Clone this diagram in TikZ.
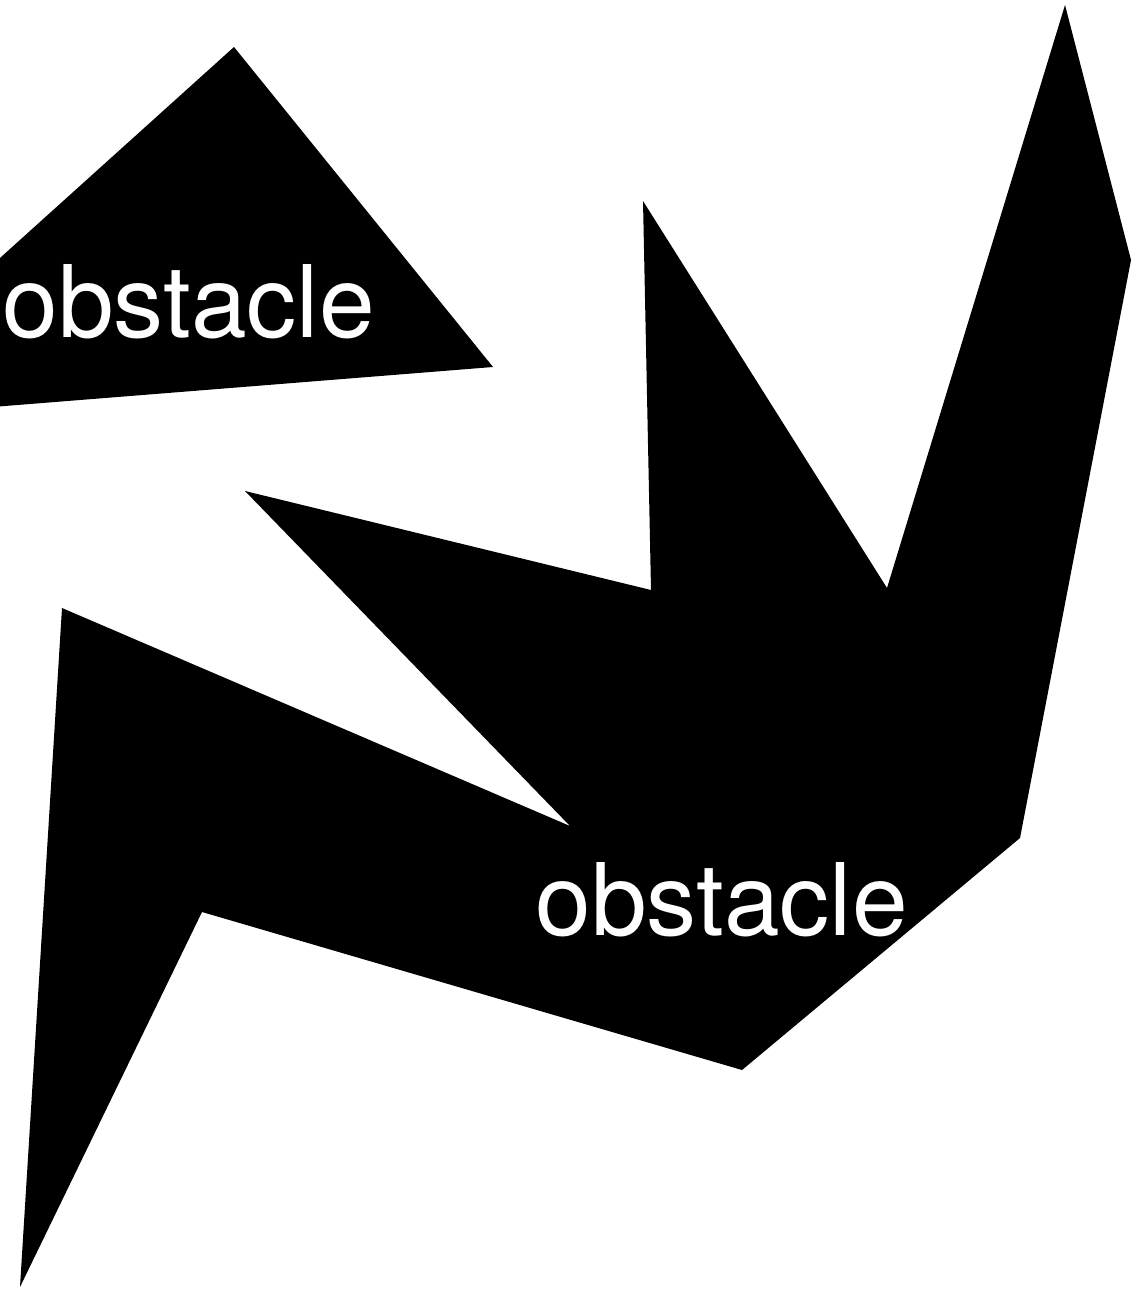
\documentclass[tikz,border=0pt]{standalone}
\usepackage{fontspec}
\setmainfont{TeX Gyre Heros}
\usetikzlibrary{positioning}

\begin{document}
\begin{tikzpicture}[
    x=0.02cm, y=-0.02cm,
    obstacle/.style={fill=black, draw=none},
    label/.style={text=white, inner sep=0pt, anchor=base west, font=\fontsize{57}{60}\selectfont}
]
\useasboundingbox (0,0) rectangle (1148,1290);
\clip (0,0) rectangle (1148,1290);
% upper obstacle (runs off the left edge)
\fill[obstacle] (234,47) -- (493,367) -- (-20,408) -- (-20,276) -- cycle;
% lower obstacle
\fill[obstacle] (1065,5) -- (1131,260) -- (1020,838) -- (742,1070) -- (202,912)
    -- (20,1287) -- (62,608) -- (570,826) -- (245,491) -- (651,590)
    -- (643,201) -- (887,588) -- cycle;
\node[label] (upper) at (2,338) {obstacle};
\node[label] (lower) at (535,935) {obstacle};
\end{tikzpicture}
\end{document}
